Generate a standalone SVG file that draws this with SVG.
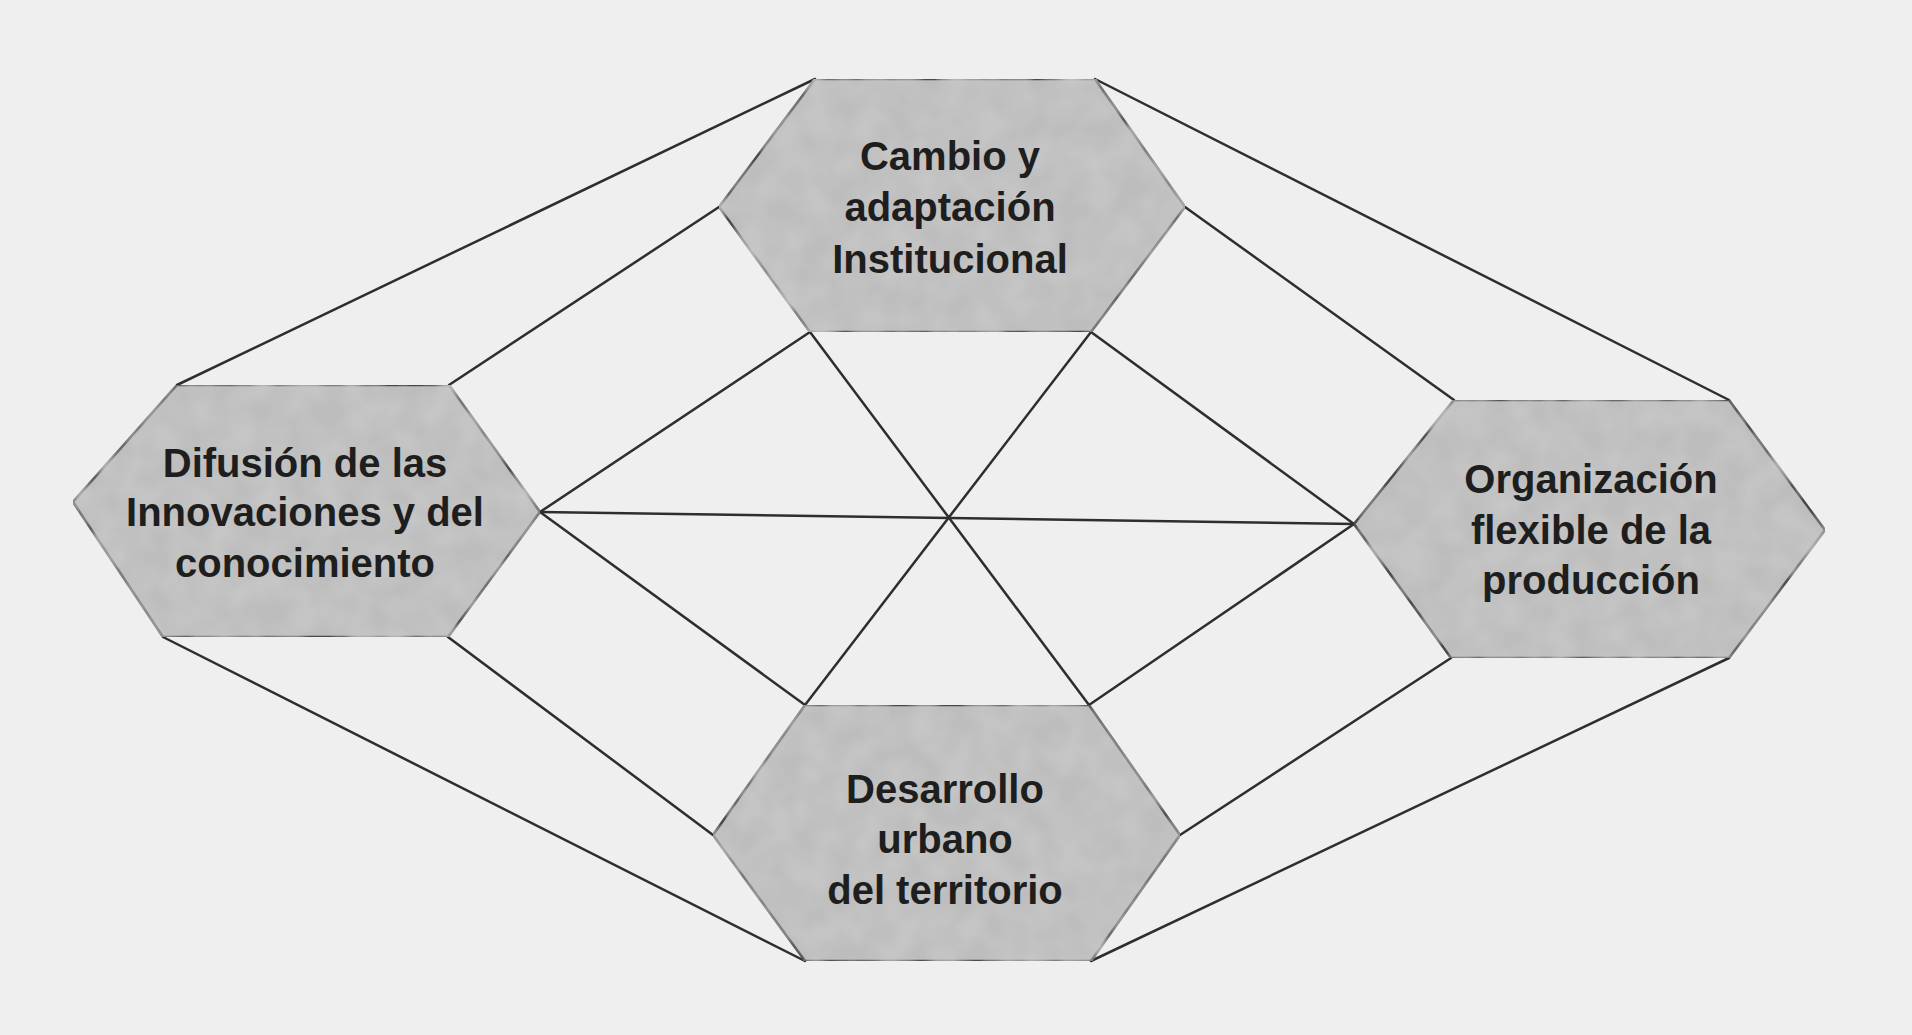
<svg xmlns="http://www.w3.org/2000/svg" width="1912" height="1035" viewBox="0 0 1912 1035">
<defs>
<filter id="mottle" x="0" y="0" width="100%" height="100%">
<feTurbulence type="fractalNoise" baseFrequency="0.035" numOctaves="2" seed="3" result="n"/>
<feColorMatrix in="n" type="matrix" values="0 0 0 0 0.58  0 0 0 0 0.58  0 0 0 0 0.58  0 0 0 1.4 -0.35" result="g"/>
<feComposite in="g" in2="SourceGraphic" operator="in" result="t"/>
<feMerge><feMergeNode in="SourceGraphic"/><feMergeNode in="t"/></feMerge>
</filter>
</defs>
<style>
.hex{fill:#bdbdbd;stroke:#4a4a4a;stroke-width:2.5;stroke-linejoin:miter}
.lbl{font-family:"Liberation Sans",Arial,sans-serif;font-weight:bold;font-size:40px;fill:#1e1e1e;text-anchor:middle}
.con line{stroke:#2e2e2e;stroke-width:2.5;stroke-linecap:round}
</style>
<rect width="1912" height="1035" fill="#efefef"/>
<g class="con" id="connectors">
<line x1="815" y1="79" x2="177" y2="385"/>
<line x1="1095" y1="79" x2="1729" y2="400"/>
<line x1="163" y1="637" x2="805" y2="961"/>
<line x1="1729" y1="658" x2="1091" y2="961"/>
<line x1="719" y1="207" x2="449" y2="385"/>
<line x1="1185" y1="207" x2="1454" y2="400"/>
<line x1="448" y1="637" x2="713" y2="835"/>
<line x1="1451" y1="658" x2="1180" y2="835"/>
<line x1="810" y1="332" x2="540" y2="512"/>
<line x1="810" y1="332" x2="1089" y2="705"/>
<line x1="1091" y1="332" x2="805" y2="705"/>
<line x1="1091" y1="332" x2="1354" y2="524"/>
<line x1="540" y1="512" x2="1354" y2="524"/>
<line x1="540" y1="512" x2="805" y2="705"/>
<line x1="1354" y1="524" x2="1089" y2="705"/>
</g>
<g id="node-cambio">
<polygon class="hex" filter="url(#mottle)" points="815,79 1095,79 1185,207 1091,332 810,332 719,207"/>
<text class="lbl" x="950" y="170">Cambio y</text>
<text class="lbl" x="950" y="221">adaptación</text>
<text class="lbl" x="950" y="273">Institucional</text>
</g>
<g id="node-difusion">
<polygon class="hex" filter="url(#mottle)" points="177,385 449,385 540,512 448,637 163,637 73,502"/>
<text class="lbl" x="305" y="477">Difusión de las</text>
<text class="lbl" x="305" y="526">Innovaciones y del</text>
<text class="lbl" x="305" y="577">conocimiento</text>
</g>
<g id="node-organizacion">
<polygon class="hex" filter="url(#mottle)" points="1454,400 1729,400 1825,530 1729,658 1451,658 1354,524"/>
<text class="lbl" x="1591" y="493">Organización</text>
<text class="lbl" x="1591" y="544">flexible de la</text>
<text class="lbl" x="1591" y="594">producción</text>
</g>
<g id="node-desarrollo">
<polygon class="hex" filter="url(#mottle)" points="805,705 1089,705 1180,835 1091,961 805,961 713,835"/>
<text class="lbl" x="945" y="803">Desarrollo</text>
<text class="lbl" x="945" y="853">urbano</text>
<text class="lbl" x="945" y="904">del territorio</text>
</g>
</svg>
